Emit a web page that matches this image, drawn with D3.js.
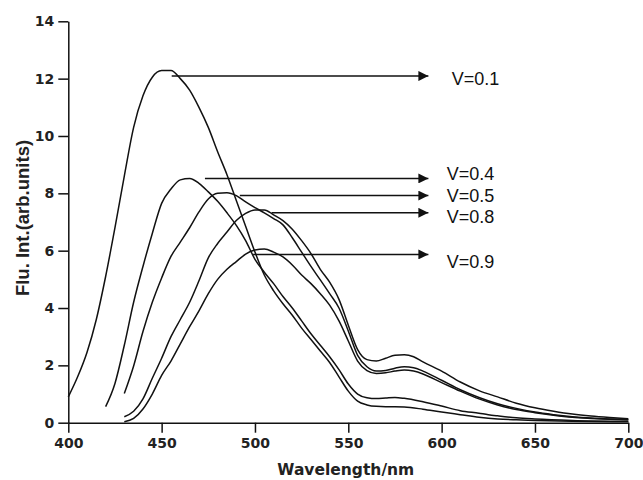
<!DOCTYPE html>
<html>
<head>
<meta charset="utf-8">
<script src="https://cdn.jsdelivr.net/npm/d3@7/dist/d3.min.js"></script>
<style>
  html, body { margin: 0; padding: 0; background: #fff; }
  svg { display: block; }
</style>
</head>
<body>
<svg id="chart" width="643" height="480"></svg>
<script>
// Emission spectra: wavelength (nm) and fluorescence intensity (arb. units)
const seriesNames = ["V=0.1", "V=0.4", "V=0.5", "V=0.8", "V=0.9"];

const nmV01 = [400,405,410,415,420,425,430,435,440,445,450,455,460,465,470,475,480,485,490,495,500,505,510,515,520,525,530,535,540,545,550,555,560,565,570,575,580,590,600,610,620,630,640,650,670,700];
const intV01 = [0.9,1.6,2.45,3.6,5.1,6.8,8.6,10.3,11.4,12.05,12.28,12.28,12.0,11.6,11.0,10.3,9.45,8.65,7.75,6.85,5.95,5.15,4.6,4.15,3.75,3.3,2.9,2.5,2.1,1.6,1.1,0.75,0.62,0.57,0.56,0.56,0.55,0.47,0.37,0.28,0.19,0.13,0.1,0.08,0.05,0.03];

const nmV04 = [420,425,430,435,440,445,450,455,460,465,470,475,480,485,490,495,500,505,510,515,520,525,530,535,540,545,550,555,560,565,570,575,580,590,600,610,620,625,630,640,650,670,700];
const intV04 = [0.56,1.37,2.7,4.2,5.45,6.6,7.65,8.15,8.47,8.52,8.35,8.05,7.72,7.32,6.88,6.35,5.7,5.25,4.85,4.4,4.0,3.55,3.1,2.7,2.3,1.85,1.35,1.0,0.87,0.84,0.86,0.88,0.85,0.73,0.58,0.42,0.33,0.28,0.24,0.17,0.13,0.08,0.05];

const nmV05 = [430,435,440,445,450,455,460,465,470,475,480,485,490,495,500,505,510,515,520,525,530,535,540,545,550,555,560,565,570,575,580,585,590,600,610,620,630,640,650,660,670,680,690,700];
const intV05 = [1.02,1.98,3.18,4.2,5.05,5.8,6.3,6.8,7.35,7.8,8.0,8.02,7.92,7.7,7.5,7.32,7.12,6.9,6.45,5.95,5.45,4.98,4.5,4.0,3.2,2.35,1.95,1.8,1.82,1.9,1.95,1.92,1.8,1.48,1.15,0.88,0.66,0.5,0.37,0.28,0.21,0.16,0.13,0.11];

const nmV08 = [430,435,440,445,450,455,460,465,470,475,480,485,490,495,500,505,510,515,520,525,530,535,540,545,550,555,560,565,570,575,580,585,590,600,610,620,630,640,650,660,670,680,690,700];
const intV08 = [0.21,0.4,0.83,1.55,2.25,3.0,3.6,4.2,4.95,5.75,6.25,6.65,7.05,7.3,7.42,7.42,7.25,7.05,6.75,6.35,5.9,5.35,4.9,4.3,3.4,2.55,2.2,2.15,2.25,2.35,2.37,2.3,2.12,1.8,1.42,1.12,0.9,0.68,0.52,0.4,0.3,0.23,0.18,0.14];

const nmV09 = [430,435,440,445,450,455,460,465,470,475,480,485,490,495,500,505,510,515,520,525,530,535,540,545,550,555,560,565,570,575,580,585,590,600,610,620,630,640,650,660,670,680,690,700];
const intV09 = [0.03,0.15,0.48,1.0,1.65,2.15,2.75,3.35,3.9,4.5,5.0,5.35,5.62,5.88,6.02,6.06,5.95,5.78,5.5,5.15,4.85,4.5,4.1,3.55,2.85,2.15,1.82,1.72,1.74,1.8,1.84,1.8,1.7,1.4,1.1,0.83,0.62,0.46,0.35,0.26,0.19,0.15,0.12,0.1];

// Pointer arrows: start wavelength and intensity level of each arrow, common end wavelength
const arrowStartNm = [455.4, 473.2, 491.9, 508.9, 499.0];
const arrowLevel = [12.09, 8.52, 7.92, 7.32, 5.87];
const arrowEndNm = 592.9;
// Label anchors (data units)
const labelNm = [605.4, 602.7, 602.7, 602.7, 602.7];
const labelLevel = [11.78, 8.47, 7.71, 6.96, 5.39];

const xTicks = [400, 450, 500, 550, 600, 650, 700];
const yTicks = [0, 2, 4, 6, 8, 10, 12, 14];

const series = [
  { nm: nmV01, val: intV01 },
  { nm: nmV04, val: intV04 },
  { nm: nmV05, val: intV05 },
  { nm: nmV08, val: intV08 },
  { nm: nmV09, val: intV09 }
].map((s, i) => ({ name: seriesNames[i], points: s.nm.map((n, j) => [n, s.val[j]]) }));

const svg = d3.select("#chart");
const margin = { left: 68.3, right: 14.7, top: 21.3, bottom: 57.3 };
const W = 643, H = 480;

const x = d3.scaleLinear().domain([400, 700]).range([margin.left, W - margin.right]);
const y = d3.scaleLinear().domain([0, 14]).range([H - margin.bottom, margin.top]);

const ink = "#111";

// Arrowhead marker
svg.append("defs").append("marker")
  .attr("id", "head")
  .attr("viewBox", "0 0 10 10")
  .attr("refX", 10).attr("refY", 5)
  .attr("markerUnits", "userSpaceOnUse")
  .attr("markerWidth", 11).attr("markerHeight", 10)
  .attr("orient", "auto")
  .append("path").attr("d", "M0,0 L10,5 L0,10 Z").attr("fill", ink);

// Spectra
const line = d3.line().x(d => x(d[0])).y(d => y(d[1])).curve(d3.curveMonotoneX);
svg.append("g").selectAll("path").data(series).join("path")
  .attr("d", d => line(d.points))
  .attr("fill", "none")
  .attr("stroke", ink)
  .attr("stroke-width", 1.5)
  .attr("stroke-linejoin", "round");

// Axes
const xAxis = d3.axisBottom(x).tickValues(xTicks).tickFormat(d3.format("d"))
  .tickSize(10).tickSizeOuter(0).tickPadding(5.6);
const yAxis = d3.axisLeft(y).tickValues(yTicks).tickFormat(d3.format("d"))
  .tickSize(10).tickSizeOuter(0).tickPadding(4);

const gx = svg.append("g").attr("transform", `translate(0,${y(0)})`).call(xAxis);
const gy = svg.append("g").attr("transform", `translate(${x(400)},0)`).call(yAxis);

[gx, gy].forEach(g => {
  g.selectAll("path.domain").attr("stroke", ink).attr("stroke-width", 1.5);
  g.selectAll(".tick line").attr("stroke", ink).attr("stroke-width", 1.5);
  g.selectAll(".tick text")
    .attr("fill", "#222")
    .style("font-family", "'DejaVu Sans', sans-serif")
    .style("font-weight", "bold")
    .style("font-size", "14px");
});

// Axis titles
svg.append("text")
  .attr("x", 345.8).attr("y", 474.5)
  .attr("text-anchor", "middle")
  .attr("fill", "#222")
  .style("font-family", "'DejaVu Sans', sans-serif")
  .style("font-weight", "bold")
  .style("font-size", "15.5px")
  .text("Wavelength/nm");

svg.append("text")
  .attr("transform", "translate(28.5,218) rotate(-90)")
  .attr("text-anchor", "middle")
  .attr("fill", "#222")
  .style("font-family", "'Liberation Sans', Arial, sans-serif")
  .style("font-weight", "bold")
  .style("font-size", "18.5px")
  .text("Flu. Int.(arb.units)");

// Arrows pointing from each curve to its label
svg.append("g").selectAll("line").data(seriesNames).join("line")
  .attr("x1", (d, i) => x(arrowStartNm[i]))
  .attr("x2", x(arrowEndNm))
  .attr("y1", (d, i) => y(arrowLevel[i]))
  .attr("y2", (d, i) => y(arrowLevel[i]))
  .attr("stroke", ink)
  .attr("stroke-width", 1.5)
  .attr("marker-end", "url(#head)");

// Series labels
svg.append("g").selectAll("text").data(seriesNames).join("text")
  .attr("x", (d, i) => x(labelNm[i]))
  .attr("y", (d, i) => y(labelLevel[i]))
  .attr("fill", ink)
  .style("font-family", "'Liberation Sans', Arial, sans-serif")
  .style("font-size", "18px")
  .text(d => d);
</script>
</body>
</html>
